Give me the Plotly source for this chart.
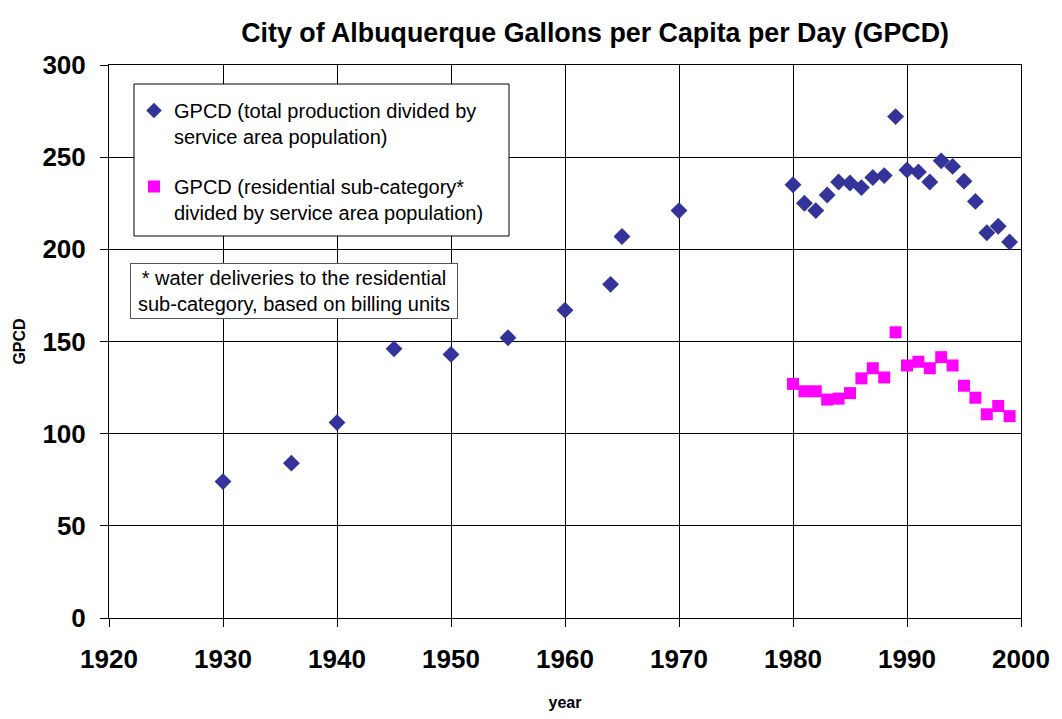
import plotly.graph_objects as go

total_years = [1930, 1936, 1940, 1945, 1950, 1955, 1960, 1964, 1965, 1970,
               1980, 1981, 1982, 1983, 1984, 1985, 1986, 1987, 1988, 1989,
               1990, 1991, 1992, 1993, 1994, 1995, 1996, 1997, 1998, 1999]
total_gpcd = [74, 84, 106, 146, 143, 152, 167, 181, 207, 221,
              235, 225, 221, 229.5, 236.5, 236, 233.5, 239, 240, 272,
              243, 242, 236.5, 248, 245, 237, 226, 209, 212.5, 204]

res_years = [1980, 1981, 1982, 1983, 1984, 1985, 1986, 1987, 1988, 1989,
             1990, 1991, 1992, 1993, 1994, 1995, 1996, 1997, 1998, 1999]
res_gpcd = [127, 123, 123, 118.5, 119, 122, 130, 135.5, 130.5, 155,
            137, 139, 135.5, 141.5, 137, 126, 119.5, 110.5, 115, 109.5]

FONT = "Liberation Sans, Arial, sans-serif"

fig = go.Figure()
fig.add_trace(go.Scatter(
    x=total_years, y=total_gpcd, mode="markers",
    name="GPCD (total production divided by<br>service area population)",
    legendgroup="a",
    marker=dict(symbol="diamond", size=13, color="#333399"),
))
fig.add_trace(go.Scatter(
    x=res_years, y=res_gpcd, mode="markers",
    name="GPCD (residential sub-category*<br>divided by service area population)",
    legendgroup="b",
    marker=dict(symbol="square", size=12, color="#FF00FF"),
))

# legend frame
fig.add_shape(
    type="rect", xref="paper", yref="paper",
    x0=0.0274, x1=0.4386, y0=0.6908, y1=0.9656,
    line=dict(color="black", width=1), fillcolor="white", layer="above",
)

fig.add_annotation(
    xref="paper", yref="paper", x=0.203, y=0.592,
    text="* water deliveries to the residential<br>sub-category, based on billing units",
    showarrow=False, font=dict(family=FONT, size=20, color="black"),
    bordercolor="#555", borderwidth=1, borderpad=2, bgcolor="white",
    width=322, height=50,
    xanchor="center", yanchor="middle",
)

fig.update_layout(
    width=1054, height=711,
    margin=dict(l=101, r=41, t=57, b=101),
    paper_bgcolor="white", plot_bgcolor="white",
    font=dict(family=FONT, color="black"),
    title=dict(text="<b>City of Albuquerque Gallons per Capita per Day (GPCD)</b>",
               x=0.557, xanchor="center", y=0.966, yanchor="middle",
               font=dict(family=FONT, size=26.8, color="black")),
    showlegend=True,
    legend=dict(
        x=0.0274, y=0.953, xanchor="left", yanchor="top",
        borderwidth=0, bgcolor="rgba(0,0,0,0)",
        font=dict(family=FONT, size=20, color="black"),
        tracegroupgap=21, valign="top", itemsizing="constant",
    ),
)

fig.update_xaxes(
    range=[1920, 2000], dtick=10, tick0=1920,
    showgrid=True, gridcolor="black", gridwidth=1,
    showline=True, linecolor="black", linewidth=1, mirror=True,
    ticks="outside", ticklen=8, tickcolor="black",
    tickfont=dict(family=FONT, size=26, color="black"),
    tickprefix="<b>", ticksuffix="</b>",
    ticklabelstandoff=10,
    title=dict(text="<b>year</b>", font=dict(family=FONT, size=16, color="black"), standoff=23),
    zeroline=False,
)
fig.update_yaxes(
    range=[0, 300], dtick=50, tick0=0,
    showgrid=True, gridcolor="black", gridwidth=1,
    showline=True, linecolor="black", linewidth=1, mirror=True,
    ticks="outside", ticklen=8, tickcolor="black",
    tickfont=dict(family=FONT, size=26, color="black"),
    tickprefix="<b>", ticksuffix="</b>",
    ticklabelstandoff=9,
    title=dict(text="<b>GPCD</b>", font=dict(family=FONT, size=16, color="black"), standoff=12),
    zeroline=False,
)

fig.write_html("out.html")
